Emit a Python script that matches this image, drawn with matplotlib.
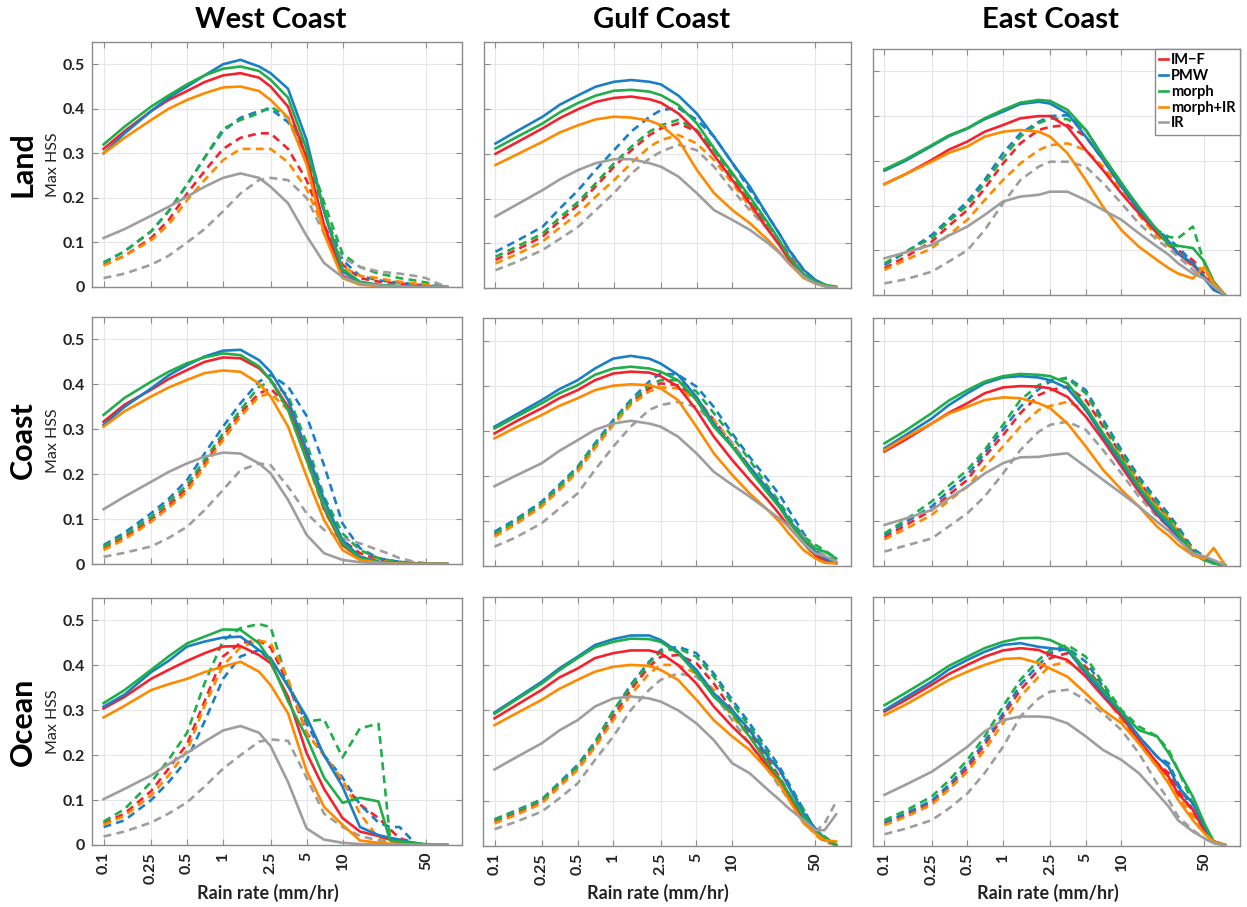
import matplotlib
matplotlib.use("Agg")
import matplotlib.pyplot as plt

plt.rcParams['font.family'] = ['Lato', 'DejaVu Sans']

# rain-rate thresholds (mm/hr)
X = [0.1, 0.15, 0.25, 0.35, 0.5, 0.7, 1, 1.4, 2, 2.5, 3.5, 5, 7, 10, 14, 20, 25, 30, 40, 50, 60, 75]

NAMES = ['IM\u2212F', 'PMW', 'morph', 'morph+IR', 'IR']
COLORS = ['#f5222d', '#1a7fc4', '#1fae4a', '#ff8a00', '#9e9e9e']

COLS = ['West Coast', 'Gulf Coast', 'East Coast']
ROWS = ['Land', 'Coast', 'Ocean']
XTICKS = [0.1, 0.25, 0.5, 1, 2.5, 5, 10, 50]
XTICKLABELS = ['0.1', '0.25', '0.5', '1', '2.5', '5', '10', '50']
YTICKS = [0, 0.1, 0.2, 0.3, 0.4, 0.5]
YTICKLABELS = ['0', '0.1', '0.2', '0.3', '0.4', '0.5']

# order in each block: IM-F, PMW, morph, morph+IR, IR
west_land_solid = [
    [0.31, 0.35, 0.395, 0.42, 0.44, 0.46, 0.475, 0.48, 0.47, 0.45, 0.405, 0.29, 0.14, 0.025, 0.008, 0.003, 0.002, 0.001, 0, 0, 0, 0],
    [0.30, 0.345, 0.395, 0.425, 0.45, 0.475, 0.50, 0.51, 0.495, 0.48, 0.445, 0.33, 0.17, 0.035, 0.01, 0.004, 0.003, 0.002, 0, 0, 0, 0],
    [0.32, 0.36, 0.405, 0.43, 0.455, 0.475, 0.49, 0.495, 0.485, 0.465, 0.425, 0.31, 0.175, 0.04, 0.012, 0.005, 0.003, 0.002, 0, 0, 0, 0],
    [0.30, 0.335, 0.375, 0.40, 0.42, 0.435, 0.448, 0.45, 0.44, 0.42, 0.38, 0.275, 0.12, 0.02, 0.005, 0.002, 0.001, 0, 0, 0, 0, 0],
    [0.11, 0.13, 0.16, 0.18, 0.203, 0.225, 0.245, 0.255, 0.245, 0.225, 0.188, 0.115, 0.054, 0.022, 0.008, 0.003, 0.002, 0.001, 0, 0, 0, 0],
]
west_land_dashed = [
    [0.05, 0.07, 0.11, 0.15, 0.21, 0.26, 0.31, 0.335, 0.345, 0.345, 0.31, 0.24, 0.14, 0.05, 0.02, 0.012, 0.01, 0.008, 0.005, 0.003, 0.001, 0],
    [0.055, 0.08, 0.125, 0.17, 0.23, 0.29, 0.35, 0.38, 0.395, 0.40, 0.37, 0.30, 0.17, 0.06, 0.025, 0.015, 0.012, 0.01, 0.006, 0.004, 0.002, 0],
    [0.055, 0.08, 0.125, 0.17, 0.23, 0.29, 0.355, 0.375, 0.39, 0.405, 0.38, 0.31, 0.19, 0.075, 0.045, 0.03, 0.025, 0.02, 0.015, 0.01, 0.005, 0],
    [0.048, 0.07, 0.105, 0.14, 0.195, 0.24, 0.285, 0.31, 0.31, 0.31, 0.28, 0.22, 0.13, 0.045, 0.025, 0.02, 0.015, 0.012, 0.008, 0.005, 0.002, 0],
    [0.02, 0.03, 0.05, 0.07, 0.10, 0.13, 0.17, 0.21, 0.24, 0.245, 0.24, 0.20, 0.12, 0.065, 0.045, 0.035, 0.032, 0.03, 0.025, 0.02, 0.01, 0],
]
gulf_land_solid = [
    [0.30, 0.325, 0.357, 0.38, 0.40, 0.416, 0.425, 0.428, 0.422, 0.414, 0.39, 0.35, 0.297, 0.241, 0.189, 0.13, 0.095, 0.063, 0.025, 0.012, 0.005, 0],
    [0.323, 0.35, 0.383, 0.41, 0.431, 0.45, 0.461, 0.465, 0.461, 0.455, 0.43, 0.39, 0.338, 0.279, 0.227, 0.16, 0.12, 0.085, 0.04, 0.018, 0.007, 0],
    [0.312, 0.337, 0.368, 0.393, 0.414, 0.43, 0.441, 0.443, 0.439, 0.431, 0.409, 0.368, 0.312, 0.256, 0.204, 0.145, 0.105, 0.07, 0.03, 0.014, 0.007, 0.003],
    [0.275, 0.298, 0.327, 0.348, 0.364, 0.377, 0.383, 0.381, 0.374, 0.364, 0.331, 0.264, 0.212, 0.174, 0.145, 0.107, 0.08, 0.055, 0.022, 0.01, 0.004, 0],
    [0.16, 0.186, 0.219, 0.243, 0.264, 0.279, 0.288, 0.288, 0.279, 0.271, 0.249, 0.212, 0.174, 0.152, 0.13, 0.10, 0.078, 0.055, 0.025, 0.01, 0.004, 0],
]
gulf_land_dashed = [
    [0.063, 0.085, 0.115, 0.15, 0.186, 0.227, 0.271, 0.308, 0.342, 0.357, 0.368, 0.35, 0.308, 0.256, 0.197, 0.141, 0.105, 0.074, 0.03, 0.014, 0.007, 0],
    [0.081, 0.105, 0.137, 0.178, 0.219, 0.264, 0.308, 0.35, 0.383, 0.398, 0.402, 0.376, 0.338, 0.279, 0.219, 0.16, 0.12, 0.085, 0.04, 0.018, 0.007, 0],
    [0.07, 0.092, 0.122, 0.158, 0.193, 0.234, 0.279, 0.316, 0.35, 0.364, 0.376, 0.353, 0.308, 0.249, 0.193, 0.137, 0.10, 0.07, 0.03, 0.014, 0.007, 0],
    [0.055, 0.075, 0.104, 0.135, 0.167, 0.204, 0.241, 0.279, 0.316, 0.331, 0.342, 0.323, 0.286, 0.234, 0.182, 0.13, 0.097, 0.066, 0.03, 0.014, 0.007, 0],
    [0.04, 0.058, 0.085, 0.11, 0.137, 0.174, 0.212, 0.256, 0.29, 0.305, 0.32, 0.308, 0.271, 0.219, 0.174, 0.13, 0.10, 0.07, 0.033, 0.016, 0.007, 0],
]
east_land_solid = [
    [0.248, 0.27, 0.302, 0.325, 0.343, 0.365, 0.38, 0.395, 0.40, 0.40, 0.376, 0.324, 0.279, 0.227, 0.183, 0.138, 0.115, 0.093, 0.067, 0.041, 0.019, 0],
    [0.278, 0.30, 0.333, 0.355, 0.372, 0.393, 0.41, 0.427, 0.432, 0.428, 0.406, 0.354, 0.302, 0.242, 0.19, 0.145, 0.12, 0.093, 0.071, 0.037, 0.011, 0],
    [0.281, 0.303, 0.335, 0.357, 0.373, 0.395, 0.414, 0.43, 0.436, 0.434, 0.414, 0.369, 0.309, 0.25, 0.197, 0.145, 0.112, 0.11, 0.105, 0.075, 0.03, 0],
    [0.248, 0.27, 0.298, 0.318, 0.332, 0.354, 0.365, 0.369, 0.365, 0.354, 0.317, 0.257, 0.197, 0.145, 0.108, 0.078, 0.06, 0.048, 0.037, 0.063, 0.026, 0],
    [0.082, 0.095, 0.112, 0.133, 0.153, 0.179, 0.209, 0.22, 0.224, 0.231, 0.231, 0.212, 0.19, 0.168, 0.138, 0.108, 0.09, 0.071, 0.048, 0.037, 0.019, 0],
]
east_land_dashed = [
    [0.06, 0.085, 0.119, 0.155, 0.19, 0.238, 0.294, 0.339, 0.369, 0.376, 0.38, 0.354, 0.302, 0.242, 0.186, 0.138, 0.118, 0.10, 0.078, 0.048, 0.015, 0],
    [0.067, 0.095, 0.134, 0.17, 0.209, 0.257, 0.317, 0.361, 0.387, 0.40, 0.402, 0.369, 0.309, 0.25, 0.19, 0.145, 0.125, 0.108, 0.071, 0.041, 0.015, 0],
    [0.071, 0.097, 0.127, 0.165, 0.201, 0.25, 0.306, 0.354, 0.384, 0.395, 0.393, 0.369, 0.309, 0.25, 0.19, 0.145, 0.13, 0.127, 0.153, 0.071, 0.019, 0],
    [0.056, 0.078, 0.104, 0.135, 0.168, 0.212, 0.257, 0.294, 0.324, 0.335, 0.339, 0.324, 0.287, 0.235, 0.179, 0.13, 0.11, 0.093, 0.063, 0.056, 0.026, 0],
    [0.026, 0.035, 0.052, 0.075, 0.10, 0.145, 0.205, 0.257, 0.287, 0.298, 0.298, 0.287, 0.25, 0.205, 0.16, 0.123, 0.104, 0.086, 0.056, 0.037, 0.015, 0],
]
west_coast_solid = [
    [0.317, 0.355, 0.388, 0.412, 0.432, 0.45, 0.46, 0.458, 0.436, 0.41, 0.35, 0.239, 0.124, 0.042, 0.013, 0.004, 0.002, 0.001, 0, 0, 0, 0],
    [0.31, 0.35, 0.391, 0.42, 0.443, 0.462, 0.475, 0.477, 0.454, 0.428, 0.365, 0.254, 0.143, 0.053, 0.016, 0.005, 0.003, 0.002, 0, 0, 0, 0],
    [0.332, 0.37, 0.406, 0.428, 0.447, 0.46, 0.469, 0.465, 0.44, 0.41, 0.343, 0.232, 0.128, 0.046, 0.013, 0.004, 0.002, 0.001, 0, 0, 0, 0],
    [0.306, 0.34, 0.373, 0.393, 0.41, 0.425, 0.431, 0.428, 0.402, 0.373, 0.306, 0.195, 0.098, 0.031, 0.009, 0.003, 0.002, 0.001, 0, 0, 0, 0],
    [0.122, 0.15, 0.183, 0.205, 0.224, 0.239, 0.248, 0.246, 0.224, 0.202, 0.143, 0.065, 0.024, 0.009, 0.004, 0.002, 0.001, 0, 0, 0, 0, 0],
]
west_coast_dashed = [
    [0.035, 0.06, 0.098, 0.13, 0.169, 0.224, 0.284, 0.336, 0.38, 0.391, 0.35, 0.239, 0.128, 0.053, 0.024, 0.01, 0.007, 0.004, 0.002, 0, 0, 0],
    [0.042, 0.07, 0.113, 0.145, 0.187, 0.246, 0.306, 0.358, 0.406, 0.421, 0.395, 0.33, 0.22, 0.09, 0.035, 0.013, 0.008, 0.005, 0.002, 0, 0, 0],
    [0.039, 0.065, 0.105, 0.138, 0.176, 0.232, 0.291, 0.343, 0.395, 0.406, 0.375, 0.27, 0.15, 0.068, 0.031, 0.013, 0.008, 0.005, 0.002, 0, 0, 0],
    [0.031, 0.055, 0.094, 0.125, 0.161, 0.217, 0.276, 0.328, 0.373, 0.38, 0.343, 0.232, 0.12, 0.046, 0.016, 0.007, 0.004, 0.002, 0, 0, 0, 0],
    [0.016, 0.025, 0.039, 0.058, 0.083, 0.12, 0.165, 0.209, 0.224, 0.22, 0.172, 0.113, 0.076, 0.057, 0.046, 0.031, 0.022, 0.013, 0.005, 0.002, 0, 0],
]
gulf_coast_solid = [
    [0.294, 0.32, 0.35, 0.372, 0.39, 0.412, 0.427, 0.431, 0.429, 0.421, 0.398, 0.346, 0.287, 0.235, 0.191, 0.146, 0.115, 0.087, 0.05, 0.024, 0.013, 0.006],
    [0.309, 0.335, 0.368, 0.392, 0.412, 0.438, 0.46, 0.466, 0.46, 0.449, 0.424, 0.375, 0.316, 0.265, 0.22, 0.169, 0.135, 0.102, 0.058, 0.032, 0.017, 0.006],
    [0.305, 0.33, 0.361, 0.383, 0.401, 0.424, 0.438, 0.442, 0.438, 0.431, 0.412, 0.368, 0.309, 0.265, 0.213, 0.161, 0.13, 0.098, 0.058, 0.039, 0.032, 0.017],
    [0.283, 0.307, 0.335, 0.355, 0.372, 0.39, 0.40, 0.403, 0.401, 0.394, 0.368, 0.309, 0.25, 0.202, 0.161, 0.124, 0.098, 0.072, 0.035, 0.017, 0.007, 0.006],
    [0.177, 0.2, 0.228, 0.255, 0.279, 0.302, 0.316, 0.322, 0.316, 0.309, 0.287, 0.25, 0.209, 0.18, 0.154, 0.124, 0.105, 0.087, 0.05, 0.028, 0.022, 0.01],
]
gulf_coast_dashed = [
    [0.069, 0.095, 0.135, 0.172, 0.213, 0.265, 0.316, 0.361, 0.394, 0.405, 0.401, 0.372, 0.324, 0.272, 0.22, 0.169, 0.135, 0.102, 0.058, 0.028, 0.017, 0.01],
    [0.076, 0.103, 0.143, 0.18, 0.22, 0.272, 0.324, 0.368, 0.409, 0.427, 0.424, 0.398, 0.353, 0.294, 0.242, 0.191, 0.158, 0.124, 0.072, 0.035, 0.021, 0.01],
    [0.072, 0.099, 0.139, 0.176, 0.217, 0.268, 0.32, 0.364, 0.401, 0.412, 0.412, 0.387, 0.339, 0.287, 0.235, 0.176, 0.142, 0.109, 0.065, 0.047, 0.035, 0.017],
    [0.065, 0.092, 0.132, 0.168, 0.209, 0.261, 0.313, 0.357, 0.387, 0.396, 0.394, 0.368, 0.324, 0.272, 0.22, 0.169, 0.135, 0.102, 0.05, 0.021, 0.01, 0.006],
    [0.043, 0.063, 0.095, 0.127, 0.161, 0.213, 0.265, 0.309, 0.346, 0.357, 0.364, 0.353, 0.316, 0.272, 0.22, 0.169, 0.135, 0.102, 0.065, 0.039, 0.024, 0.013],
]
east_coast_solid = [
    [0.254, 0.28, 0.316, 0.34, 0.361, 0.383, 0.396, 0.399, 0.398, 0.394, 0.375, 0.331, 0.279, 0.22, 0.165, 0.113, 0.087, 0.061, 0.028, 0.013, 0.01, 0.002],
    [0.261, 0.29, 0.327, 0.357, 0.383, 0.405, 0.418, 0.421, 0.418, 0.412, 0.394, 0.346, 0.287, 0.228, 0.172, 0.117, 0.09, 0.065, 0.024, 0.017, 0.006, 0.002],
    [0.272, 0.3, 0.339, 0.367, 0.39, 0.409, 0.421, 0.426, 0.424, 0.421, 0.405, 0.353, 0.294, 0.235, 0.176, 0.124, 0.098, 0.072, 0.028, 0.013, 0.006, 0.002],
    [0.257, 0.285, 0.316, 0.338, 0.353, 0.368, 0.374, 0.372, 0.361, 0.35, 0.316, 0.265, 0.213, 0.169, 0.132, 0.087, 0.067, 0.047, 0.024, 0.015, 0.04, 0.002],
    [0.091, 0.105, 0.124, 0.15, 0.176, 0.205, 0.228, 0.241, 0.242, 0.246, 0.25, 0.22, 0.191, 0.161, 0.132, 0.098, 0.078, 0.058, 0.028, 0.021, 0.013, 0.002],
]
east_coast_dashed = [
    [0.064, 0.09, 0.124, 0.158, 0.191, 0.242, 0.29, 0.339, 0.379, 0.39, 0.398, 0.368, 0.309, 0.246, 0.187, 0.135, 0.107, 0.08, 0.035, 0.017, 0.006, 0.002],
    [0.069, 0.097, 0.132, 0.167, 0.202, 0.25, 0.302, 0.353, 0.392, 0.409, 0.418, 0.39, 0.324, 0.257, 0.198, 0.146, 0.115, 0.087, 0.039, 0.021, 0.01, 0.002],
    [0.072, 0.102, 0.143, 0.178, 0.213, 0.257, 0.313, 0.368, 0.401, 0.412, 0.416, 0.383, 0.316, 0.25, 0.191, 0.139, 0.11, 0.08, 0.035, 0.017, 0.006, 0.002],
    [0.059, 0.082, 0.113, 0.145, 0.176, 0.22, 0.265, 0.309, 0.346, 0.355, 0.364, 0.346, 0.294, 0.239, 0.183, 0.132, 0.105, 0.076, 0.032, 0.017, 0.006, 0.002],
    [0.032, 0.045, 0.061, 0.088, 0.117, 0.154, 0.205, 0.257, 0.298, 0.313, 0.32, 0.302, 0.257, 0.205, 0.154, 0.109, 0.087, 0.065, 0.028, 0.013, 0.006, 0.002],
]
west_ocean_solid = [
    [0.304, 0.33, 0.37, 0.39, 0.41, 0.427, 0.442, 0.443, 0.423, 0.405, 0.33, 0.205, 0.125, 0.06, 0.03, 0.02, 0.012, 0.006, 0, 0, 0, 0],
    [0.308, 0.335, 0.385, 0.41, 0.442, 0.453, 0.462, 0.464, 0.434, 0.416, 0.353, 0.285, 0.20, 0.13, 0.04, 0.022, 0.016, 0.012, 0.003, 0, 0, 0],
    [0.316, 0.345, 0.39, 0.42, 0.449, 0.464, 0.48, 0.479, 0.449, 0.41, 0.32, 0.24, 0.15, 0.094, 0.105, 0.097, 0.01, 0.008, 0.004, 0.002, 0, 0],
    [0.284, 0.31, 0.345, 0.358, 0.37, 0.385, 0.397, 0.408, 0.386, 0.356, 0.293, 0.165, 0.085, 0.045, 0.01, 0.005, 0.003, 0.002, 0, 0, 0, 0],
    [0.102, 0.125, 0.155, 0.18, 0.205, 0.23, 0.255, 0.265, 0.25, 0.22, 0.14, 0.037, 0.012, 0.005, 0.002, 0.001, 0, 0, 0, 0, 0, 0],
]
west_ocean_dashed = [
    [0.048, 0.07, 0.12, 0.17, 0.225, 0.32, 0.42, 0.45, 0.455, 0.44, 0.36, 0.25, 0.20, 0.14, 0.09, 0.06, 0.035, 0.015, 0.005, 0, 0, 0],
    [0.04, 0.055, 0.10, 0.14, 0.19, 0.275, 0.37, 0.42, 0.434, 0.41, 0.36, 0.27, 0.20, 0.15, 0.09, 0.05, 0.04, 0.04, 0.005, 0, 0, 0],
    [0.052, 0.08, 0.14, 0.19, 0.25, 0.36, 0.455, 0.483, 0.492, 0.485, 0.36, 0.275, 0.28, 0.195, 0.26, 0.27, 0.015, 0.01, 0.005, 0, 0, 0],
    [0.045, 0.065, 0.11, 0.155, 0.21, 0.31, 0.40, 0.44, 0.455, 0.45, 0.37, 0.25, 0.20, 0.145, 0.07, 0.015, 0.005, 0.002, 0, 0, 0, 0],
    [0.019, 0.03, 0.05, 0.07, 0.095, 0.13, 0.17, 0.20, 0.23, 0.235, 0.232, 0.15, 0.07, 0.04, 0.02, 0.01, 0.008, 0.005, 0.002, 0, 0, 0],
]
gulf_ocean_solid = [
    [0.282, 0.31, 0.345, 0.372, 0.392, 0.415, 0.426, 0.432, 0.432, 0.426, 0.40, 0.359, 0.308, 0.264, 0.227, 0.175, 0.146, 0.109, 0.057, 0.035, 0.017, 0.002],
    [0.295, 0.325, 0.363, 0.392, 0.418, 0.444, 0.457, 0.465, 0.465, 0.455, 0.429, 0.389, 0.337, 0.30, 0.256, 0.197, 0.168, 0.131, 0.072, 0.039, 0.017, 0.002],
    [0.292, 0.322, 0.359, 0.388, 0.415, 0.439, 0.451, 0.458, 0.457, 0.451, 0.426, 0.381, 0.33, 0.293, 0.242, 0.183, 0.149, 0.116, 0.065, 0.035, 0.017, 0.002],
    [0.267, 0.292, 0.323, 0.347, 0.367, 0.385, 0.396, 0.40, 0.398, 0.389, 0.367, 0.323, 0.278, 0.242, 0.212, 0.168, 0.138, 0.102, 0.05, 0.028, 0.013, 0.01],
    [0.169, 0.195, 0.227, 0.255, 0.278, 0.308, 0.326, 0.33, 0.326, 0.319, 0.30, 0.271, 0.234, 0.183, 0.161, 0.124, 0.102, 0.083, 0.057, 0.035, 0.035, 0.07],
]
gulf_ocean_dashed = [
    [0.054, 0.072, 0.098, 0.135, 0.172, 0.221, 0.286, 0.345, 0.396, 0.418, 0.422, 0.404, 0.359, 0.30, 0.249, 0.19, 0.153, 0.116, 0.065, 0.028, 0.01, 0.002],
    [0.059, 0.078, 0.103, 0.14, 0.179, 0.23, 0.297, 0.356, 0.407, 0.433, 0.44, 0.426, 0.381, 0.323, 0.271, 0.212, 0.175, 0.138, 0.08, 0.035, 0.013, 0.002],
    [0.057, 0.076, 0.102, 0.138, 0.175, 0.227, 0.30, 0.352, 0.404, 0.429, 0.437, 0.418, 0.374, 0.315, 0.264, 0.205, 0.168, 0.131, 0.08, 0.035, 0.021, 0.002],
    [0.05, 0.068, 0.094, 0.13, 0.168, 0.218, 0.278, 0.334, 0.381, 0.40, 0.40, 0.381, 0.345, 0.286, 0.242, 0.183, 0.146, 0.109, 0.057, 0.024, 0.01, 0.002],
    [0.037, 0.053, 0.076, 0.105, 0.138, 0.19, 0.242, 0.30, 0.345, 0.367, 0.381, 0.374, 0.337, 0.278, 0.227, 0.168, 0.131, 0.102, 0.057, 0.032, 0.05, 0.098],
]
east_ocean_solid = [
    [0.297, 0.322, 0.356, 0.38, 0.40, 0.418, 0.432, 0.437, 0.433, 0.422, 0.411, 0.374, 0.33, 0.286, 0.234, 0.183, 0.153, 0.116, 0.08, 0.035, 0.01, 0.002],
    [0.30, 0.328, 0.363, 0.39, 0.411, 0.429, 0.444, 0.448, 0.44, 0.437, 0.433, 0.381, 0.337, 0.293, 0.242, 0.197, 0.175, 0.131, 0.094, 0.043, 0.01, 0.002],
    [0.311, 0.338, 0.373, 0.398, 0.418, 0.437, 0.451, 0.459, 0.46, 0.455, 0.437, 0.389, 0.345, 0.297, 0.256, 0.242, 0.205, 0.168, 0.109, 0.05, 0.01, 0.002],
    [0.289, 0.312, 0.345, 0.367, 0.385, 0.40, 0.413, 0.415, 0.404, 0.392, 0.374, 0.337, 0.30, 0.271, 0.227, 0.175, 0.138, 0.102, 0.057, 0.028, 0.01, 0.002],
    [0.113, 0.135, 0.164, 0.19, 0.219, 0.253, 0.278, 0.286, 0.286, 0.284, 0.271, 0.242, 0.212, 0.19, 0.161, 0.116, 0.087, 0.057, 0.032, 0.017, 0.006, 0.002],
]
east_ocean_dashed = [
    [0.05, 0.068, 0.096, 0.13, 0.172, 0.223, 0.286, 0.345, 0.389, 0.415, 0.426, 0.396, 0.345, 0.286, 0.234, 0.183, 0.161, 0.124, 0.076, 0.032, 0.01, 0.002],
    [0.052, 0.072, 0.10, 0.135, 0.179, 0.23, 0.293, 0.356, 0.40, 0.426, 0.437, 0.407, 0.352, 0.293, 0.242, 0.197, 0.183, 0.138, 0.08, 0.035, 0.01, 0.002],
    [0.057, 0.078, 0.109, 0.145, 0.19, 0.242, 0.308, 0.367, 0.411, 0.433, 0.444, 0.418, 0.359, 0.30, 0.264, 0.242, 0.212, 0.168, 0.094, 0.043, 0.01, 0.002],
    [0.046, 0.064, 0.091, 0.125, 0.164, 0.212, 0.271, 0.33, 0.374, 0.398, 0.407, 0.385, 0.337, 0.278, 0.227, 0.175, 0.146, 0.109, 0.065, 0.028, 0.01, 0.002],
    [0.026, 0.038, 0.057, 0.083, 0.116, 0.161, 0.219, 0.286, 0.326, 0.341, 0.345, 0.323, 0.293, 0.256, 0.205, 0.138, 0.102, 0.065, 0.035, 0.017, 0.006, 0.002],
]

panels = [
    [(west_land_solid, west_land_dashed), (gulf_land_solid, gulf_land_dashed), (east_land_solid, east_land_dashed)],
    [(west_coast_solid, west_coast_dashed), (gulf_coast_solid, gulf_coast_dashed), (east_coast_solid, east_coast_dashed)],
    [(west_ocean_solid, west_ocean_dashed), (gulf_ocean_solid, gulf_ocean_dashed), (east_ocean_solid, east_ocean_dashed)],
]

# panel boxes in pixels: left, right, top, bottom
boxes = [
    [(92, 462, 42, 287), (484, 851, 42, 288), (873, 1240, 49, 295)],
    [(92, 462, 317, 564), (483, 851, 318, 566), (873, 1240, 318, 566)],
    [(92, 462, 598, 845), (483, 851, 597, 846), (873, 1240, 597, 846)],
]

W, H = 1247, 907
fig = plt.figure(figsize=(W / 100, H / 100), dpi=100)
EDGE = '#8c8c8c'

for r in range(3):
    for c in range(3):
        L, R, T, B = boxes[r][c]
        ax = fig.add_axes([L / W, 1 - B / H, (R - L) / W, (B - T) / H])
        solid, dashed = panels[r][c]
        for k in range(5):
            ax.plot(X, dashed[k], color=COLORS[k], lw=1.9, dashes=(3.0, 2.0))
        for k in range(5):
            ax.plot(X, solid[k], color=COLORS[k], lw=1.9, label=NAMES[k])

        ax.set_xscale('log')
        ax.set_xlim(0.08, 100)
        ax.set_ylim(0, 0.55)
        ax.set_xticks(XTICKS)
        ax.set_xticks([], minor=True)
        ax.set_yticks(YTICKS)
        ax.grid(True, color='#e6e6e6', lw=0.8)
        ax.set_axisbelow(True)
        for s in ax.spines.values():
            s.set_color(EDGE)
            s.set_linewidth(1.0)
        ax.tick_params(direction='in', top=True, right=True, length=4,
                       width=0.8, color=EDGE, labelsize=11.5, pad=5)

        if c == 0:
            ax.set_yticklabels(YTICKLABELS, fontweight='bold', color='#222222')
        else:
            ax.set_yticklabels([])
        if r == 2:
            ax.set_xticklabels(XTICKLABELS, rotation=90, fontweight='bold', color='#222222')
            fig.text((L + R) / 2 / W - 0.007, 1 - 893 / H, 'Rain rate (mm/hr)',
                     ha='center', va='center', fontsize=13, fontweight='bold', color='#222222')
        else:
            ax.set_xticklabels([])

        if r == 0:
            fig.text((L + R) / 2 / W - 0.005, 1 - 20 / H, COLS[c], ha='center', va='center',
                     fontsize=21, fontweight='bold')
        if c == 0:
            yc = 1 - (T + B) / 2 / H
            fig.text(23 / W, yc, ROWS[r], rotation=90, ha='center', va='center',
                     fontsize=22, fontweight='bold')
            fig.text(53 / W, yc, 'Max HSS', rotation=90, ha='center', va='center',
                     fontsize=11.5, color='#222222')

        if r == 0 and c == 2:
            leg = ax.legend(loc='upper right', borderaxespad=0, fontsize=10.5,
                            handlelength=0.6, handletextpad=0.2, labelspacing=0.12,
                            borderpad=0.3, fancybox=False, framealpha=1,
                            edgecolor=EDGE, prop={'weight': 'bold', 'size': 10.5})
            leg.get_frame().set_linewidth(1.0)

fig.savefig('out.png', dpi=100)
